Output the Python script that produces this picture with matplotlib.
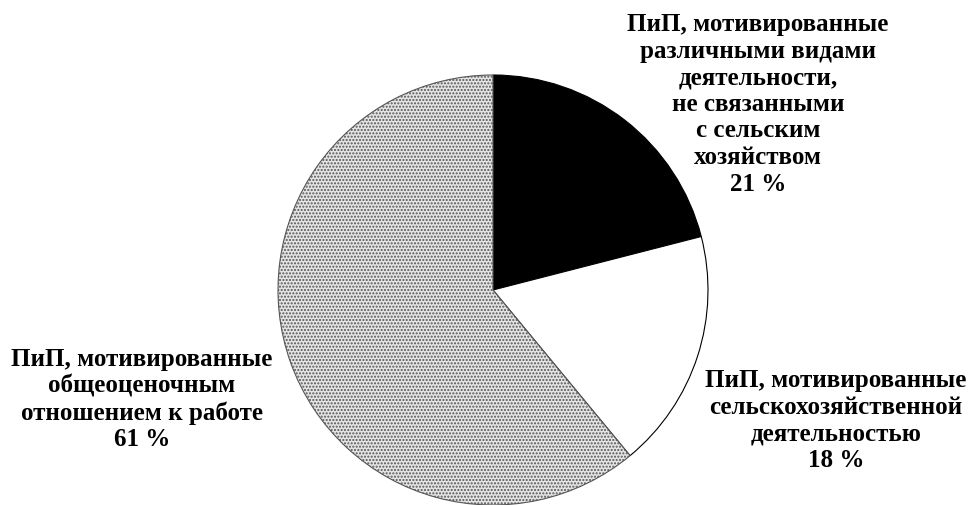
import matplotlib.pyplot as plt

shares = [21, 18, 61]
labels = [
    'ПиП, мотивированные\nразличными видами\nдеятельности,\nне связанными\nс сельским\nхозяйством\n21 %',
    'ПиП, мотивированные\nсельскохозяйственной\nдеятельностью\n18 %',
    'ПиП, мотивированные\nобщеоценочным\nотношением к работе\n61 %',
]
label_pos = [(758, 13), (836, 369), (142, 348)]  # image pixel coords, top-center

W, H = 971, 505
fig = plt.figure(figsize=(W / 100, H / 100), dpi=100)
ax = fig.add_axes([0, 0, 1, 1])

wedges, _ = ax.pie(shares, startangle=90, counterclock=False,
                   center=(493, H - 290), radius=215,
                   colors=['black', 'white', '#e4e4e4'],
                   wedgeprops=dict(edgecolor='black', linewidth=0.8))
wedges[2].set_hatch('.....')
wedges[2].set_edgecolor('#555555')

for (x, y), txt in zip(label_pos, labels):
    ax.text(x, H - y, txt, ha='center', va='top', fontsize=18,
            fontweight='bold', family='Liberation Serif', linespacing=1.2)

ax.set_xlim(0, W)
ax.set_ylim(0, H)
ax.set_aspect('equal')
ax.axis('off')
fig.savefig('out.png', dpi=100)
